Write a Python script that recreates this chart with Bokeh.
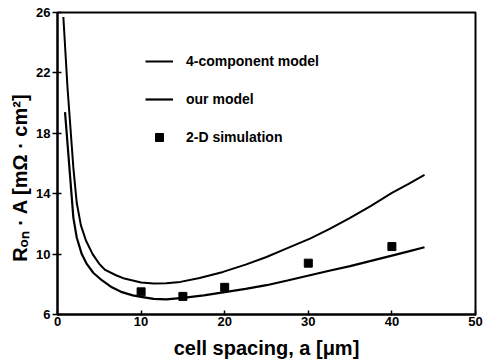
from bokeh.plotting import figure
from bokeh.models import Range1d, Legend, LegendItem
from bokeh.embed import file_html
from bokeh.resources import INLINE

# Data
x_four = [0.7, 1.2, 1.9, 2.3, 2.8, 3.4, 4.2, 5.0, 5.7, 7.0, 8.0, 10.0, 11.5, 13.0, 14.7, 17.0, 19.8, 22.5, 25.0, 27.5, 30.2, 32.5, 35.0, 37.5, 40.0, 42.0, 43.9]
y_four = [25.7, 21.0, 15.7, 13.4, 11.9, 10.9, 10.0, 9.35, 8.95, 8.6, 8.38, 8.12, 8.05, 8.07, 8.16, 8.42, 8.82, 9.3, 9.81, 10.4, 11.03, 11.65, 12.4, 13.2, 14.05, 14.65, 15.25]

x_ours = [0.9, 1.4, 1.9, 2.3, 2.9, 3.5, 4.3, 5.3, 6.5, 7.6, 9.0, 10.0, 11.5, 13.0, 15.0, 17.5, 20.0, 22.5, 25.0, 27.5, 30.2, 32.5, 35.0, 37.5, 40.0, 42.0, 43.9]
y_ours = [19.4, 15.9, 12.4, 11.1, 10.0, 9.35, 8.75, 8.27, 7.8, 7.5, 7.27, 7.17, 7.03, 7.0, 7.1, 7.27, 7.48, 7.7, 7.94, 8.25, 8.6, 8.9, 9.2, 9.55, 9.9, 10.18, 10.45]

x_sim = [10, 15, 20, 30, 40]
y_sim = [7.5, 7.2, 7.8, 9.4, 10.5]

x_ticks = [0, 10, 20, 30, 40, 50]
y_ticks = [6, 10, 14, 18, 22, 26]

FONT = "Liberation Sans"

p = figure(width=486, height=361, output_backend="svg", toolbar_location=None,
           x_range=Range1d(0, 50), y_range=Range1d(6, 26),
           min_border_left=57, min_border_right=11, min_border_top=12, min_border_bottom=47)

p.background_fill_color = "white"
p.border_fill_color = "white"
p.xgrid.visible = False
p.ygrid.visible = False
p.outline_line_color = "black"
p.outline_line_width = 2

for ax in (p.xaxis[0], p.yaxis[0]):
    ax.axis_line_width = 2
    ax.axis_line_color = "black"
    ax.major_tick_line_width = 1.5
    ax.minor_tick_line_width = 1.5
    ax.major_tick_in = 4
    ax.minor_tick_in = 3
    ax.minor_tick_out = 0
    ax.major_label_text_font = FONT
    ax.major_label_text_font_style = "bold"
    ax.major_label_text_font_size = "13px"
    ax.major_label_text_color = "black"
    ax.axis_label_text_font = FONT
    ax.axis_label_text_font_style = "bold"
    ax.axis_label_text_color = "black"

p.xaxis.major_tick_out = 1
p.yaxis.major_tick_out = 5
p.xaxis.ticker = x_ticks
p.xaxis[0].ticker.num_minor_ticks = 2
p.yaxis.ticker = y_ticks
p.yaxis[0].ticker.num_minor_ticks = 2
p.xaxis.major_label_standoff = 1
p.yaxis.major_label_standoff = 2
p.xaxis.axis_label = "cell spacing, a [\u03bcm]"
p.yaxis.axis_label = "R\u2092\u2099  \u00b7  A  [m\u03a9  \u00b7  cm\u00b2]"
p.xaxis.axis_label_text_font_size = "20px"
p.yaxis.axis_label_text_font_size = "20px"
p.xaxis.axis_label_standoff = 8
p.yaxis.axis_label_standoff = 2

r_four = p.line(x_four, y_four, line_color="black", line_width=2)
r_ours = p.line(x_ours, y_ours, line_color="black", line_width=2.2)
r_sim = p.scatter(x_sim, y_sim, marker="square", size=8, fill_color="black", line_color="black")

legend = Legend(items=[
    LegendItem(label="4-component model", renderers=[r_four]),
    LegendItem(label="our model", renderers=[r_ours]),
    LegendItem(label="2-D simulation", renderers=[r_sim]),
], location=(88, 167))
legend.background_fill_alpha = 0
legend.border_line_alpha = 0
legend.padding = 0
legend.margin = 0
legend.glyph_width = 28
legend.glyph_height = 20
legend.label_height = 20
legend.spacing = 18
legend.label_standoff = 13
legend.label_text_font = FONT
legend.label_text_font_style = "bold"
legend.label_text_font_size = "14px"
legend.label_text_color = "black"
p.add_layout(legend, "center")

open("out.html", "w").write(file_html(p, INLINE))
